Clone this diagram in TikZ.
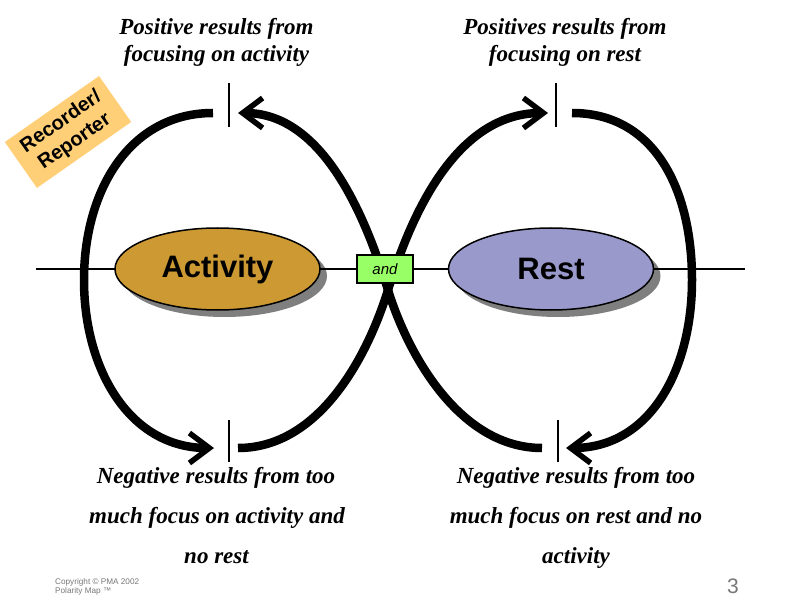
\documentclass[tikz,border=0pt]{standalone}
\usepackage{fontspec}
\setmainfont{Liberation Serif}
\setsansfont{Liberation Sans}
\usetikzlibrary{arrows.meta,shadows,shapes.geometric}
\definecolor{actcol}{RGB}{204,153,51}
\definecolor{restcol}{RGB}{153,153,204}
\definecolor{andcol}{RGB}{153,255,102}
\definecolor{tagcol}{RGB}{255,207,120}
\definecolor{footgray}{RGB}{120,120,120}
\begin{document}
\begin{tikzpicture}[x=1pt,y=-1pt,
  loopline/.style={line width=8.5pt},
  headtip/.style={-{Straight Barb[length=20pt,width=30pt,line width=5.5pt]}},
  tickline/.style={line width=2pt},
  caption/.style={font=\fontsize{23}{28}\selectfont\bfseries\itshape, inner sep=0pt, anchor=base},
  pole/.style={ellipse, draw=black, line width=1.5pt, minimum width=205pt, minimum height=82pt,
    font=\sffamily\bfseries\fontsize{31}{36}\selectfont,
    drop shadow={shadow xshift=7pt, shadow yshift=-7pt, opacity=.5, fill=black}},
  footnote/.style={font=\sffamily\fontsize{8.2}{9}\selectfont, text=footgray, inner sep=0pt, anchor=base west}
]
\useasboundingbox (0,0) rectangle (792,612);
\fill[white] (0,0) rectangle (792,612);

% axis line
\coordinate (axL) at (36,269);
\coordinate (axR) at (745,269);
\draw[line width=2.2pt] (axL) -- (axR);

% ticks
\coordinate (tkTLa) at (229,83);  \coordinate (tkTLb) at (229,127);
\coordinate (tkTRa) at (556,83);  \coordinate (tkTRb) at (556,127);
\coordinate (tkBLa) at (229,420); \coordinate (tkBLb) at (229,462);
\coordinate (tkBRa) at (558,420); \coordinate (tkBRb) at (558,462);
\draw[tickline] (tkTLa) -- (tkTLb);
\draw[tickline] (tkTRa) -- (tkTRb);
\draw[tickline] (tkBLa) -- (tkBLb);
\draw[tickline] (tkBRa) -- (tkBRb);

% loop end points
\coordinate (L1) at (213,113);
\coordinate (Lmid) at (84,280);
\coordinate (L2) at (214,448);
\coordinate (B1) at (238,448);
\coordinate (X) at (388,290);
\coordinate (T2) at (548,113);
\coordinate (T1) at (238,113);
\coordinate (B2) at (542,448);
\coordinate (R1) at (572,113);
\coordinate (Rmid) at (692,280);
\coordinate (R2) at (566,448);

% left loop
\draw[loopline,headtip] (L1) .. controls (130,113) and (84,190) .. (Lmid)
  .. controls (84,370) and (130,448) .. (L2);
% right loop
\draw[loopline,headtip] (R1) .. controls (655,113) and (692,190) .. (Rmid)
  .. controls (692,370) and (650,448) .. (R2);
% crossing curves
\draw[loopline,headtip] (B1) .. controls (320,448) and (368,355) .. (X)
  .. controls (408,225) and (452,113) .. (T2);
\draw[loopline,headtip] (B2) .. controls (460,448) and (408,355) .. (X)
  .. controls (368,225) and (326,113) .. (T1);

% poles
\node[pole, fill=actcol] (act) at (217.5,269) {Activity};
\node[pole, fill=restcol] (rest) at (551,269) {Rest};

% and box
\node[draw=black, line width=1.5pt, fill=andcol, minimum width=56pt, minimum height=28pt,
  inner sep=0pt, font=\sffamily\itshape\fontsize{15}{18}\selectfont] (andbox) at (385,269) {and};

% recorder tag
\node[fill=tagcol, rotate=35, minimum width=115pt, minimum height=56pt, align=center,
  inner sep=2pt, font=\sffamily\bfseries\fontsize{20}{24}\selectfont] (tag) at (68,132)
  {Recorder/\\Reporter};

% captions
\node[caption] (pl1) at (216.5,35) {Positive results from};
\node[caption] (pl2) at (216.5,62) {focusing on activity};
\node[caption] (pr1) at (565,35) {Positives results from};
\node[caption] (pr2) at (565,62) {focusing on rest};
\node[caption] (nl1) at (216,483) {Negative results from too};
\node[caption] (nl2) at (217,523) {much focus on activity and};
\node[caption] (nl3) at (216.5,563) {no rest};
\node[caption] (nr1) at (576,483) {Negative results from too};
\node[caption] (nr2) at (576,523) {much focus on rest and no};
\node[caption] (nr3) at (576,563) {activity};

% footer
\node[footnote] (copy1) at (55,584) {Copyright © PMA 2002};
\node[footnote] (copy2) at (55,593) {Polarity Map ™};
\node[font=\sffamily\fontsize{21}{24}\selectfont, text=footgray, inner sep=0pt, anchor=base] (pg) at (733,593) {3};
\end{tikzpicture}
\end{document}
